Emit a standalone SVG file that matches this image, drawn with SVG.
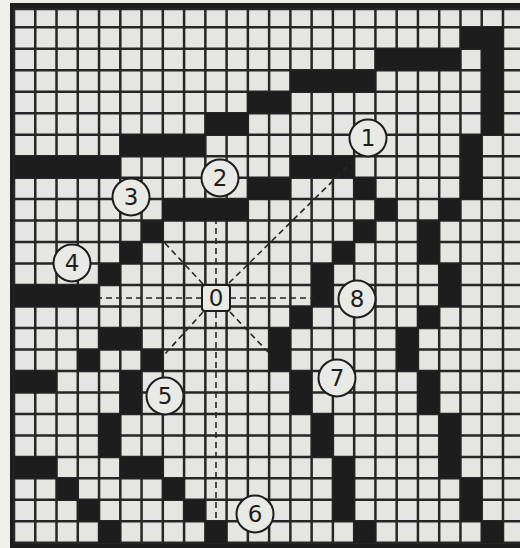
<svg xmlns="http://www.w3.org/2000/svg" width="520" height="548" viewBox="0 0 520 548">
<style>
.bk{fill:#1d1d1d}
.gl{stroke:#262626;stroke-width:2.5;fill:none}
.ds{stroke:#262626;stroke-width:1.6;stroke-dasharray:6 4;fill:none}
.lbl circle,.lbl rect{fill:#e9e9e5;stroke:#1d1d1d;stroke-width:2}
.lbl text{font-family:"DejaVu Sans","Liberation Sans",sans-serif;font-size:23px;fill:#1d1d1d;text-anchor:middle}
</style>
<rect x="0" y="0" width="520" height="548" fill="#efefeb"/>
<rect x="10" y="3" width="510" height="545" class="bk"/>
<rect x="14" y="9" width="506" height="533.8" fill="#e5e6e1"/>
<g id="grid">
<path class="gl" d="M14 9V542.8M35.26 9V542.8M56.52 9V542.8M77.78 9V542.8M99.04 9V542.8M120.3 9V542.8M141.56 9V542.8M162.82 9V542.8M184.08 9V542.8M205.34 9V542.8M226.6 9V542.8M247.86 9V542.8M269.12 9V542.8M290.38 9V542.8M311.64 9V542.8M332.9 9V542.8M354.16 9V542.8M375.42 9V542.8M396.68 9V542.8M417.94 9V542.8M439.2 9V542.8M460.46 9V542.8M481.72 9V542.8M502.98 9V542.8"/>
<path class="gl" d="M14 9H520M14 27.28H520M14 48.76H520M14 70.24H520M14 91.72H520M14 113.2H520M14 134.68H520M14 156.16H520M14 177.64H520M14 199.12H520M14 220.6H520M14 242.08H520M14 263.56H520M14 285.04H520M14 306.52H520M14 328H520M14 349.48H520M14 370.96H520M14 392.44H520M14 413.92H520M14 435.4H520M14 456.88H520M14 478.36H520M14 499.84H520M14 521.32H520M14 542.8H520"/>
</g>
<g id="blocks" class="bk">
<rect x="460.46" y="27.28" width="42.52" height="21.48"/>
<rect x="481.72" y="27.28" width="21.26" height="107.4"/>
<rect x="375.42" y="48.76" width="85.04" height="21.48"/>
<rect x="290.38" y="70.24" width="85.04" height="21.48"/>
<rect x="247.86" y="91.72" width="42.52" height="21.48"/>
<rect x="205.34" y="113.2" width="42.52" height="21.48"/>
<rect x="120.3" y="134.68" width="85.04" height="21.48"/>
<rect x="460.46" y="134.68" width="21.26" height="64.44"/>
<rect x="14" y="156.16" width="106.3" height="21.48"/>
<rect x="290.38" y="156.16" width="63.78" height="21.48"/>
<rect x="247.86" y="177.64" width="42.52" height="21.48"/>
<rect x="354.16" y="177.64" width="21.26" height="21.48"/>
<rect x="162.82" y="199.12" width="85.04" height="21.48"/>
<rect x="375.42" y="199.12" width="21.26" height="21.48"/>
<rect x="439.2" y="199.12" width="21.26" height="21.48"/>
<rect x="141.56" y="220.6" width="21.26" height="21.48"/>
<rect x="354.16" y="220.6" width="21.26" height="21.48"/>
<rect x="417.94" y="220.6" width="21.26" height="42.96"/>
<rect x="120.3" y="242.08" width="21.26" height="21.48"/>
<rect x="332.9" y="242.08" width="21.26" height="21.48"/>
<rect x="99.04" y="263.56" width="21.26" height="21.48"/>
<rect x="311.64" y="263.56" width="21.26" height="42.96"/>
<rect x="439.2" y="263.56" width="21.26" height="42.96"/>
<rect x="14" y="285.04" width="85.04" height="21.48"/>
<rect x="290.38" y="306.52" width="21.26" height="21.48"/>
<rect x="417.94" y="306.52" width="21.26" height="21.48"/>
<rect x="99.04" y="328" width="42.52" height="21.48"/>
<rect x="269.12" y="328" width="21.26" height="42.96"/>
<rect x="396.68" y="328" width="21.26" height="42.96"/>
<rect x="77.78" y="349.48" width="21.26" height="21.48"/>
<rect x="141.56" y="349.48" width="21.26" height="21.48"/>
<rect x="14" y="370.96" width="42.52" height="21.48"/>
<rect x="120.3" y="370.96" width="21.26" height="42.96"/>
<rect x="290.38" y="370.96" width="21.26" height="42.96"/>
<rect x="417.94" y="370.96" width="21.26" height="42.96"/>
<rect x="99.04" y="413.92" width="21.26" height="42.96"/>
<rect x="311.64" y="413.92" width="21.26" height="42.96"/>
<rect x="439.2" y="413.92" width="21.26" height="64.44"/>
<rect x="14" y="456.88" width="42.52" height="21.48"/>
<rect x="120.3" y="456.88" width="42.52" height="21.48"/>
<rect x="332.9" y="456.88" width="21.26" height="64.44"/>
<rect x="56.52" y="478.36" width="21.26" height="21.48"/>
<rect x="162.82" y="478.36" width="21.26" height="21.48"/>
<rect x="460.46" y="478.36" width="21.26" height="42.96"/>
<rect x="77.78" y="499.84" width="21.26" height="21.48"/>
<rect x="184.08" y="499.84" width="21.26" height="21.48"/>
<rect x="99.04" y="521.32" width="21.26" height="21.48"/>
<rect x="205.34" y="521.32" width="21.26" height="21.48"/>
<rect x="354.16" y="521.32" width="21.26" height="21.48"/>
<rect x="481.72" y="521.32" width="21.26" height="21.48"/>
</g>
<g id="connectors">
<path class="ds" d="M216 284V221"/>
<path class="ds" d="M216 312V521"/>
<path class="ds" d="M202 298H100"/>
<path class="ds" d="M230 298H314"/>
<path class="ds" d="M229 283L352 162"/>
<path class="ds" d="M203 284L162 240"/>
<path class="ds" d="M203 312L165 354"/>
<path class="ds" d="M230 312L268 352"/>
</g>
<g id="n0" class="lbl"><rect x="202" y="285" width="28" height="26" rx="3"/><text x="216" y="306.3">0</text></g>
<g id="n1" class="lbl"><circle cx="368" cy="138" r="18.5"/><text x="368" y="146.3">1</text></g>
<g id="n2" class="lbl"><circle cx="220" cy="178" r="18.5"/><text x="220" y="186.3">2</text></g>
<g id="n3" class="lbl"><circle cx="131" cy="197" r="18.5"/><text x="131" y="205.3">3</text></g>
<g id="n4" class="lbl"><circle cx="72" cy="263" r="18.5"/><text x="72" y="271.3">4</text></g>
<g id="n5" class="lbl"><circle cx="165" cy="396" r="18.5"/><text x="165" y="404.3">5</text></g>
<g id="n6" class="lbl"><circle cx="255" cy="514" r="18.5"/><text x="255" y="522.3">6</text></g>
<g id="n7" class="lbl"><circle cx="337" cy="378" r="18.5"/><text x="337" y="386.3">7</text></g>
<g id="n8" class="lbl"><circle cx="357" cy="299" r="18.5"/><text x="357" y="307.3">8</text></g>
</svg>
